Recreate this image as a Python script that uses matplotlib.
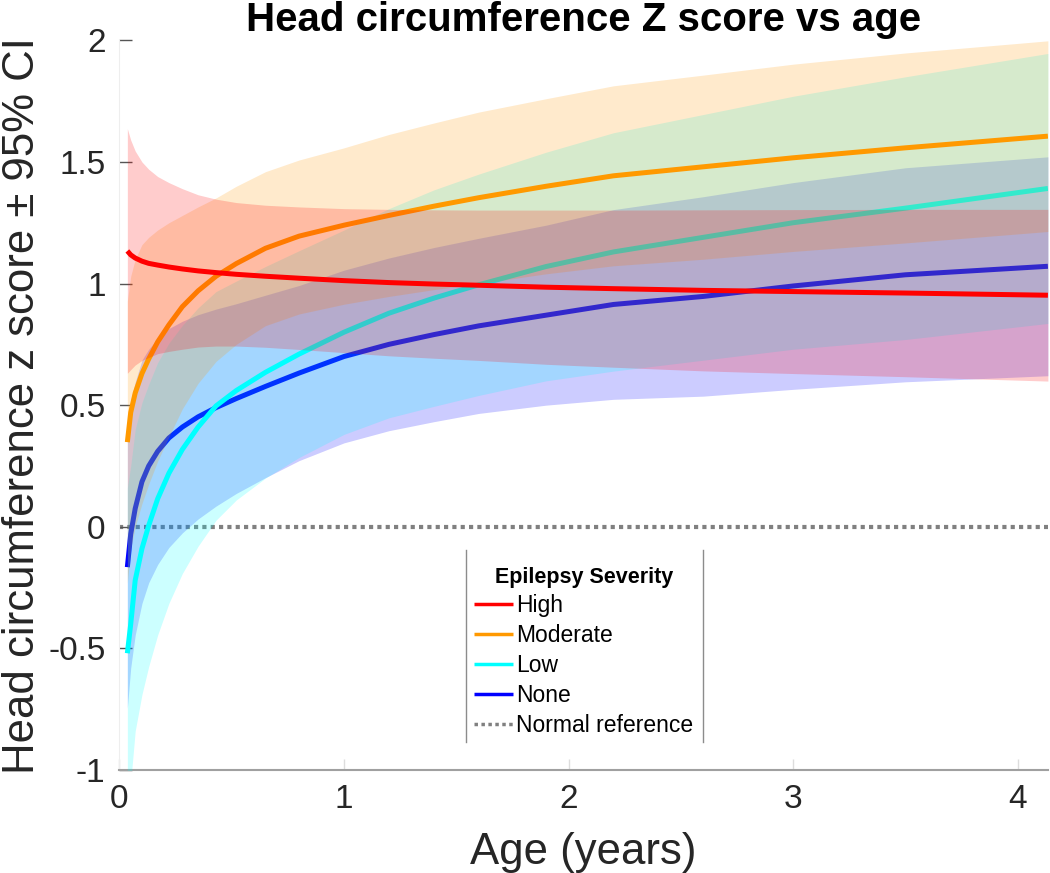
import matplotlib
matplotlib.use("Agg")
import matplotlib.pyplot as plt
from matplotlib.lines import Line2D

# ages (years) at which the curves were read
age = [0.035, 0.05, 0.07, 0.1, 0.13, 0.17, 0.22, 0.28, 0.35, 0.43, 0.52, 0.65,
       0.8, 1.0, 1.2, 1.4, 1.6, 1.9, 2.2, 2.6, 3.0, 3.5, 4.135]

# High severity
high_mean = [1.134, 1.118, 1.105, 1.092, 1.083, 1.076, 1.068, 1.060, 1.052, 1.045, 1.038, 1.030,
             1.022, 1.012, 1.004, 0.998, 0.993, 0.985, 0.979, 0.972, 0.967, 0.961, 0.952]
high_hi = [1.637, 1.59, 1.545, 1.50, 1.470, 1.44, 1.415, 1.39, 1.365, 1.347, 1.333, 1.322,
           1.315, 1.308, 1.305, 1.303, 1.302, 1.302, 1.302, 1.303, 1.304, 1.305, 1.305]
high_lo = [0.631, 0.646, 0.665, 0.684, 0.696, 0.712, 0.721, 0.730, 0.739, 0.743, 0.743, 0.738,
           0.729, 0.716, 0.703, 0.693, 0.684, 0.668, 0.656, 0.641, 0.630, 0.617, 0.599]

# Moderate severity
mod_mean = [0.348, 0.47, 0.55, 0.63, 0.69, 0.76, 0.83, 0.905, 0.97, 1.03, 1.082, 1.145,
            1.195, 1.24, 1.28, 1.318, 1.353, 1.40, 1.443, 1.48, 1.517, 1.558, 1.606]
mod_hi = [0.928, 1.03, 1.10, 1.16, 1.19, 1.22, 1.25, 1.28, 1.315, 1.352, 1.40, 1.46,
          1.508, 1.558, 1.613, 1.66, 1.705, 1.76, 1.813, 1.857, 1.902, 1.948, 1.998]
mod_lo = [-0.232, -0.09, 0.0, 0.095, 0.175, 0.27, 0.37, 0.485, 0.59, 0.68, 0.75, 0.827,
          0.875, 0.915, 0.947, 0.975, 1.0, 1.04, 1.073, 1.10, 1.132, 1.167, 1.214]

# Low severity
low_mean = [-0.52, -0.40, -0.22, -0.09, 0.005, 0.115, 0.22, 0.318, 0.41, 0.497, 0.56, 0.635,
            0.71, 0.80, 0.878, 0.94, 0.995, 1.07, 1.13, 1.19, 1.25, 1.31, 1.391]
low_hi = [0.16, 0.25, 0.40, 0.51, 0.585, 0.675, 0.755, 0.828, 0.90, 0.967, 1.01, 1.07,
          1.135, 1.22, 1.308, 1.385, 1.45, 1.54, 1.62, 1.695, 1.77, 1.85, 1.946]
low_lo = [-1.20, -1.05, -0.84, -0.69, -0.575, -0.445, -0.315, -0.192, -0.08, 0.027, 0.11, 0.20,
          0.285, 0.38, 0.448, 0.495, 0.54, 0.60, 0.64, 0.685, 0.73, 0.77, 0.836]

# No epilepsy
none_mean = [-0.166, -0.03, 0.075, 0.185, 0.25, 0.31, 0.365, 0.41, 0.452, 0.49, 0.527, 0.577,
             0.632, 0.70, 0.75, 0.79, 0.826, 0.87, 0.914, 0.947, 0.99, 1.036, 1.071]
none_hi = [0.414, 0.52, 0.595, 0.685, 0.73, 0.775, 0.815, 0.845, 0.872, 0.895, 0.917, 0.952,
           0.992, 1.055, 1.105, 1.148, 1.186, 1.24, 1.304, 1.357, 1.415, 1.476, 1.521]
none_lo = [-0.746, -0.58, -0.445, -0.315, -0.23, -0.155, -0.085, -0.025, 0.032, 0.085, 0.137, 0.202,
           0.272, 0.345, 0.395, 0.432, 0.466, 0.50, 0.524, 0.537, 0.565, 0.596, 0.621]

reference_z = 0

xticks = [0, 1, 2, 3, 4]
yticks = [-1, -0.5, 0, 0.5, 1, 1.5, 2]
ytick_labels = ["-1", "-0.5", "0", "0.5", "1", "1.5", "2"]

plt.rcParams['font.family'] = ['Liberation Sans', 'DejaVu Sans']

fig = plt.figure(figsize=(10.5, 8.73), dpi=100)
ax = fig.add_axes([0.1138, 0.118, 0.8842, 0.8358])

ax.axhline(reference_z, color='0.5', ls=(0, (1, 1)), lw=3, zorder=1)

# drawn from None up to High, each band then its line
groups = [
    ("None", none_mean, none_lo, none_hi, (0, 0, 1)),
    ("Low", low_mean, low_lo, low_hi, (0, 1, 1)),
    ("Moderate", mod_mean, mod_lo, mod_hi, (1, 0.6, 0)),
    ("High", high_mean, high_lo, high_hi, (1, 0, 0)),
]
handles = {}
z = 2
for name, m, lo, hi, c in groups:
    ax.fill_between(age, lo, hi, color=c, alpha=0.2, linewidth=0, zorder=z)
    ln, = ax.plot(age, m, color=c, lw=3.6, zorder=z + 1, solid_capstyle='butt')
    handles[name] = ln
    z += 2

ax.set_xlim(0, 4.135)
ax.set_ylim(-1, 2)
ax.set_xticks(xticks)
ax.set_yticks(yticks)
ax.set_yticklabels(ytick_labels)
ax.tick_params(axis='both', direction='in', labelsize=24, labelcolor='#262626', pad=10)
ax.tick_params(axis='y', length=9, color='#555555', width=1)
ax.tick_params(axis='x', length=8, color='#dddddd', width=1)

for s in ['top', 'right']:
    ax.spines[s].set_visible(False)
ax.spines['left'].set_color('#eeeeee')
ax.spines['bottom'].set_color('#a0a0a0')
ax.spines['bottom'].set_linewidth(1.5)

ax.set_xlabel("Age (years)", fontsize=31.5, color='#262626', labelpad=12)
ax.set_ylabel("Head circumference z score \u00b1 95% CI", fontsize=31.5, color='#262626', labelpad=4)
ax.set_title("Head circumference Z score vs age", fontsize=29, fontweight='bold', pad=7)

leg_handles = [handles["High"], handles["Moderate"], handles["Low"], handles["None"],
               Line2D([], [], color='0.5', ls=(0, (1, 1)), lw=2.2)]
leg_labels = ["High", "Moderate", "Low", "None", "Normal reference"]
leg = ax.legend(leg_handles, leg_labels, title="Epilepsy Severity", loc='lower center',
                bbox_to_anchor=(0.5, 0.039), borderaxespad=0, frameon=False,
                fontsize=16.5, title_fontproperties={'weight': 'bold', 'size': 15.5},
                handlelength=1.7, handletextpad=0.15, labelspacing=0.3, borderpad=0.2)
for h in leg.legend_handles:
    h.set_linewidth(2.5)
leg.set_zorder(20)

# legend box in the reference only shows its two side edges
fig.canvas.draw()
bb = leg.get_window_extent()
W, H = fig.bbox.width, fig.bbox.height
for xe in (bb.x0 - 3, bb.x1 + 5):
    fig.add_artist(Line2D([xe / W, xe / W], [bb.y0 / H, (bb.y1 + 12) / H],
                          color='0.55', lw=1, transform=fig.transFigure))

fig.savefig("out.png", dpi=100)
